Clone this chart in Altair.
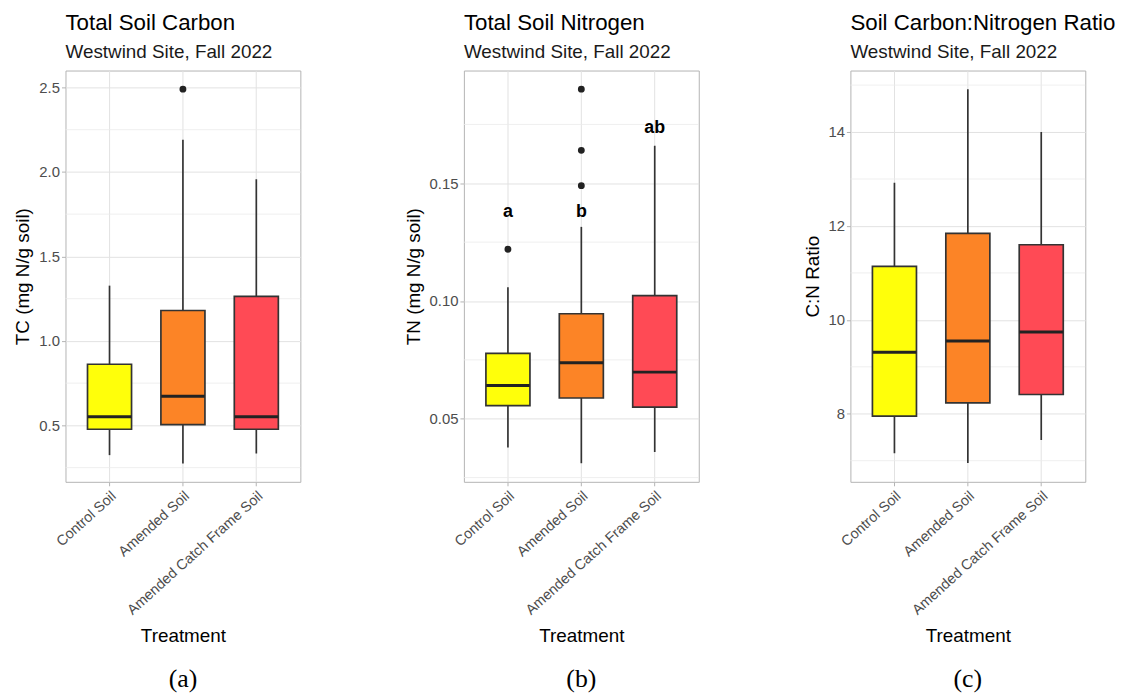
import altair as alt
import pandas as pd

FONT = "Liberation Sans"
treatments = ["Control Soil", "Amended Soil", "Amended Catch Frame Soil"]
fill_colors = ["#FFFF0A", "#FC8426", "#FF4A55"]
subtitle = "Westwind Site, Fall 2022"

# Panel (a): Total Soil Carbon
tc_lo = [0.324, 0.275, 0.334]
tc_q1 = [0.477, 0.505, 0.477]
tc_med = [0.551, 0.672, 0.551]
tc_q3 = [0.862, 1.180, 1.264]
tc_hi = [1.327, 2.190, 1.956]
tc_out_cat = ["Amended Soil"]
tc_out_val = [2.49]
tc_major = [0.5, 1.0, 1.5, 2.0, 2.5]
tc_minor = [0.25, 0.75, 1.25, 1.75, 2.25]

# Panel (b): Total Soil Nitrogen
tn_lo = [0.0378, 0.0311, 0.0359]
tn_q1 = [0.0556, 0.0588, 0.0549]
tn_med = [0.0641, 0.0738, 0.0698]
tn_q3 = [0.0778, 0.0946, 0.1023]
tn_hi = [0.1058, 0.1315, 0.1659]
tn_out_cat = ["Control Soil", "Amended Soil", "Amended Soil", "Amended Soil"]
tn_out_val = [0.122, 0.149, 0.164, 0.190]
tn_letters = ["a", "b", "ab"]
tn_letter_y = [0.1356, 0.1356, 0.1715]
tn_major = [0.05, 0.10, 0.15]
tn_minor = [0.025, 0.075, 0.125, 0.175]

# Panel (c): C:N ratio
cn_lo = [7.16, 6.95, 7.44]
cn_q1 = [7.95, 8.23, 8.41]
cn_med = [9.31, 9.55, 9.74]
cn_q3 = [11.14, 11.84, 11.60]
cn_hi = [12.92, 14.91, 14.00]
cn_major = [8, 10, 12, 14]
cn_minor = [7, 9, 11, 13, 15]

W, H = 237, 415


def panel(title, ytitle, domain, major, minor, fmt, lo, q1, med, q3, hi,
          out_cat, out_val, tag, letters=None, letter_y=None):
    stats = pd.DataFrame({"treatment": treatments, "lo": lo, "q1": q1,
                          "med": med, "q3": q3, "hi": hi})
    yscale = alt.Scale(domain=domain, nice=False, zero=False)
    yaxis = alt.Axis(values=major, format=fmt, title=ytitle, grid=True,
                     gridColor="#E2E2E2", gridWidth=1, tickColor="#B3B3B3",
                     tickSize=4, labelColor="#4D4D4D", labelFontSize=15,
                     labelFont=FONT, labelPadding=2, titleFont=FONT,
                     titleFontSize=19, titleColor="black",
                     titleFontWeight="normal", titlePadding=6, domain=False)
    xscale = alt.Scale(domain=treatments, paddingInner=0, paddingOuter=0.1)
    xaxis = alt.Axis(title="Treatment", labelAngle=-42, labelAlign="right",
                     labelBaseline="top", labelFontSize=14.5, labelFont=FONT,
                     labelColor="#4D4D4D", labelLimit=400, labelPadding=3,
                     bandPosition=0.5, grid=True, gridColor="#E2E2E2",
                     gridWidth=1, tickColor="#B3B3B3", tickSize=4,
                     titleFont=FONT, titleFontSize=19, titleColor="black",
                     titleFontWeight="normal", titlePadding=10, domain=False)
    X = alt.X("treatment:N", scale=xscale, axis=xaxis, sort=treatments)

    def Y(field):
        return alt.Y(f"{field}:Q", scale=yscale, axis=yaxis)

    minor_layer = alt.Chart(pd.DataFrame({"m": minor})).mark_rule(
        color="#EBEBEB", strokeWidth=0.8).encode(y=Y("m"))
    whisk = alt.Chart(stats).mark_rule(color="#333333", strokeWidth=1.7).encode(
        x=X, y=Y("lo"), y2="hi")
    box = alt.Chart(stats).mark_bar(width={"band": 0.6}, stroke="#333333",
                                    strokeWidth=1.7, opacity=1).encode(
        x=X, y=Y("q1"), y2="q3",
        color=alt.Color("treatment:N",
                        scale=alt.Scale(domain=treatments, range=fill_colors),
                        legend=None))
    median = alt.Chart(stats).mark_tick(color="#222222", thickness=3,
                                        size=44, opacity=1).encode(
        x=X, y=Y("med"))
    layers = [minor_layer, whisk, box, median]
    if out_cat:
        outl = pd.DataFrame({"treatment": out_cat, "v": out_val})
        layers.append(alt.Chart(outl).mark_circle(size=48, color="#222222",
                                                  opacity=1).encode(
            x=X, y=Y("v")))
    if letters:
        ld = pd.DataFrame({"treatment": treatments, "v": letter_y,
                           "lab": letters})
        layers.append(alt.Chart(ld).mark_text(
            font=FONT, fontSize=18, fontWeight="bold", color="black",
            baseline="alphabetic").encode(x=X, y=Y("v"), text="lab:N"))
    tagd = pd.DataFrame({"lab": [tag]})
    layers.append(alt.Chart(tagd).mark_text(
        font="Liberation Serif", fontSize=26, color="black",
        baseline="middle").encode(x=alt.value(W / 2), y=alt.value(614),
                                  text="lab:N"))
    return alt.layer(*layers).properties(
        width=W, height=H,
        title=alt.TitleParams(text=title, subtitle=subtitle, anchor="start",
                              frame="group", font=FONT, fontSize=22.5,
                              fontWeight="normal", color="black",
                              subtitleFont=FONT, subtitleFontSize=19,
                              subtitleColor="#1A1A1A", subtitlePadding=8,
                              offset=9))


pa = panel("Total Soil Carbon", "TC (mg N/g soil)", [0.166, 2.6], tc_major,
           tc_minor, ".1f", tc_lo, tc_q1, tc_med, tc_q3, tc_hi,
           tc_out_cat, tc_out_val, "(a)")
pb = panel("Total Soil Nitrogen", "TN (mg N/g soil)", [0.0232, 0.1979],
           tn_major, tn_minor, ".2f", tn_lo, tn_q1, tn_med, tn_q3, tn_hi,
           tn_out_cat, tn_out_val, "(b)", tn_letters, tn_letter_y)
pc = panel("Soil Carbon:Nitrogen Ratio", "C:N Ratio", [6.55, 15.31],
           cn_major, cn_minor, "d", cn_lo, cn_q1, cn_med, cn_q3, cn_hi,
           [], [], "(c)")

chart = alt.hconcat(pa, pb, pc, spacing=103).properties(
    padding={"left": 5, "top": 1, "right": 0, "bottom": 0},
    background="white",
).configure_view(stroke="#B3B3B3", strokeWidth=1)

chart.save("out.html", embed_options={"renderer": "svg", "actions": False})
